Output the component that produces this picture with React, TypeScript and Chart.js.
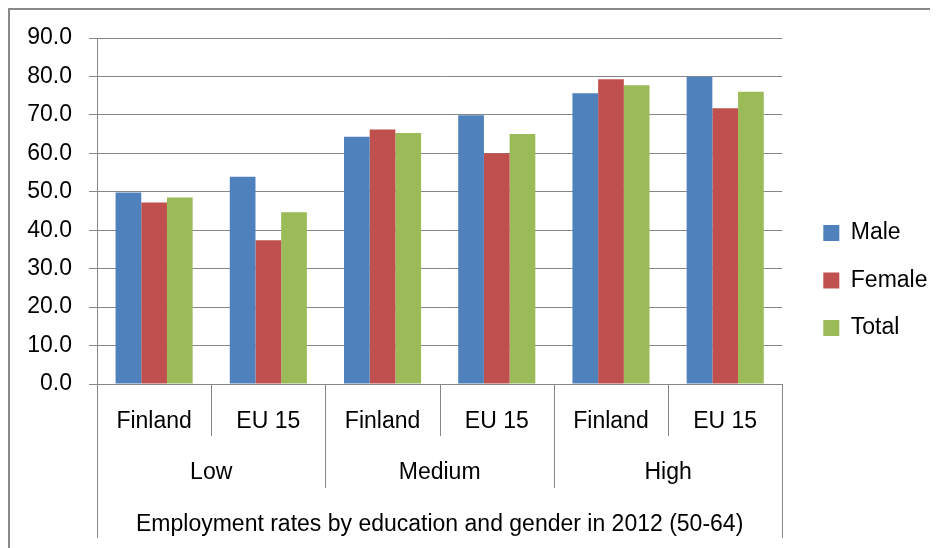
import React, { useEffect, useRef } from 'react';
import { Chart, registerables } from 'chart.js';

Chart.register(...registerables);

// ---- data ----
const countries = ['Finland', 'EU 15', 'Finland', 'EU 15', 'Finland', 'EU 15'];
const levels = ['Low', 'Medium', 'High'];
const axisTitle = 'Employment rates by education and gender in 2012 (50-64)';
const seriesNames = ['Male', 'Female', 'Total'];
const maleValues = [49.8, 53.9, 64.3, 69.9, 75.6, 79.9];
const femaleValues = [47.2, 37.4, 66.2, 60.0, 79.3, 71.7];
const totalValues = [48.5, 44.7, 65.3, 65.0, 77.7, 76.0];
const seriesColors = ['#4F81BD', '#C0504D', '#9BBB59'];
const yMin = 0;
const yMax = 90;
const yStep = 10;

const GRID = '#878787';
const FONT = "'Liberation Sans', Arial, sans-serif";

const groupAxisPlugin = {
  id: 'groupAxis',
  afterDraw(chart: any) {
    const { ctx, chartArea } = chart;
    const xs = chart.scales.x;
    const n = chart.data.labels.length;
    const step = xs.getPixelForValue(1) - xs.getPixelForValue(0);
    const start = xs.getPixelForValue(0) - step / 2;
    const bottom = chartArea.bottom;
    ctx.save();
    ctx.strokeStyle = GRID;
    ctx.lineWidth = 1;
    for (let k = 0; k <= n; k++) {
      const px = Math.round(start + k * step) + 0.5;
      const len = k === 0 || k === n ? 154 : k % 2 === 0 ? 104 : 52;
      ctx.beginPath();
      ctx.moveTo(px, bottom);
      ctx.lineTo(px, bottom + len);
      ctx.stroke();
    }
    ctx.fillStyle = '#000';
    ctx.font = `23px ${FONT}`;
    ctx.textAlign = 'center';
    ctx.textBaseline = 'alphabetic';
    chart.data.labels.forEach((lab: string, i: number) => {
      ctx.fillText(lab, xs.getPixelForValue(i), bottom + 44);
    });
    levels.forEach((lv, g) => {
      const cx = start + (g * 2 + 1) * step;
      ctx.fillText(lv, cx, bottom + 95);
    });
    ctx.fillText(axisTitle, (start + start + n * step) / 2, bottom + 147);
    ctx.restore();
  },
};

export default function App() {
  const ref = useRef<HTMLCanvasElement | null>(null);
  useEffect(() => {
    if (!ref.current) return;
    Chart.defaults.font.family = FONT;
    Chart.defaults.font.size = 23;
    Chart.defaults.color = '#000';
    const chart = new Chart(ref.current, {
      type: 'bar',
      data: {
        labels: countries,
        datasets: [
          { label: seriesNames[0], data: maleValues, backgroundColor: seriesColors[0] },
          { label: seriesNames[1], data: femaleValues, backgroundColor: seriesColors[1] },
          { label: seriesNames[2], data: totalValues, backgroundColor: seriesColors[2] },
        ],
      },
      options: {
        responsive: false,
        animation: false,
        events: [],
        datasets: { bar: { categoryPercentage: 0.675, barPercentage: 1.0, borderWidth: 0 } },
        layout: { padding: { top: 28, left: 0, bottom: 25, right: 0.5 } },
        plugins: {
          tooltip: { enabled: false },
          title: { display: false },
          legend: {
            display: true,
            position: 'right',
            align: 'center',
            labels: {
              boxWidth: 16,
              boxHeight: 16,
              padding: 24.5,
              color: '#000',
              font: { size: 23, family: FONT },
            },
          },
        },
        scales: {
          x: {
            grid: { display: false },
            border: { display: true, color: GRID, width: 1 },
            ticks: { display: false },
            afterFit: (s: any) => {
              s.height = 139;
              s.paddingLeft = 0;
              s.paddingRight = 0;
            },
          },
          y: {
            min: yMin,
            max: yMax,
            ticks: {
              stepSize: yStep,
              padding: 17,
              color: '#000',
              font: { size: 23, family: FONT },
              callback: (v: any) => Number(v).toFixed(1),
            },
            grid: { color: GRID, lineWidth: 1, tickLength: 8, drawTicks: true, tickColor: GRID },
            border: { display: true, color: GRID, width: 1 },
            afterFit: (s: any) => {
              s.width = 87;
              s.paddingTop = 0;
              s.paddingBottom = 0;
            },
          },
          yR: {
            type: 'linear',
            position: 'right',
            display: true,
            grid: { display: false },
            border: { display: false },
            ticks: { display: false },
            afterFit: (s: any) => {
              s.width = 16.5;
              s.paddingTop = 0;
              s.paddingBottom = 0;
            },
          },
        },
      } as any,
      plugins: [groupAxisPlugin],
    });
    return () => chart.destroy();
  }, []);

  return (
    <div
      style={{
        width: 928,
        height: 538,
        borderTop: '2px solid #898989',
        borderLeft: '2px solid #898989',
      }}
    >
      <canvas ref={ref} width={928} height={538} style={{ display: 'block' }} />
    </div>
  );
}
